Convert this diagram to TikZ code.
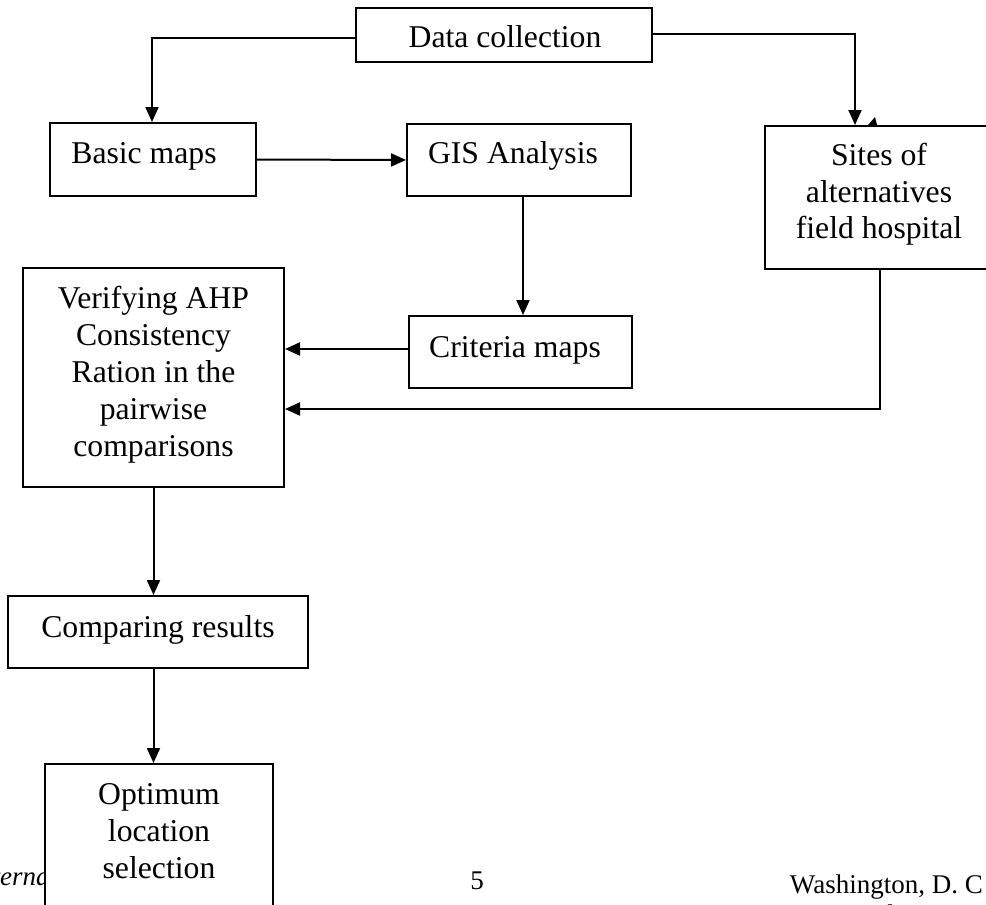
\documentclass[tikz,border=0pt]{standalone}
\usepackage{fontspec}
\setmainfont{Liberation Serif}
\usetikzlibrary{arrows.meta}
\begin{document}
\begin{tikzpicture}[x=1pt,y=-1pt,
  box/.style={draw, line width=2pt, fill=white, inner sep=0pt},
  lbl/.style={anchor=base, inner sep=0pt, font=\fontsize{31.7}{37}\selectfont},
  conn/.style={line width=2pt, -{Triangle[length=15pt,width=13pt]}},
  foot/.style={anchor=base, inner sep=0pt, font=\fontsize{27}{32}\selectfont}]
\useasboundingbox (0,0) rectangle (986,905);

% footer text of the underlying page (partly hidden)
\node[foot, anchor=base west, font=\fontsize{27}{32}\selectfont\itshape] (fl) at (0,885) {\llap{Int}ernational};
\node[foot] (fpage) at (477,889) {5};
\node[foot, anchor=base east] (fw) at (983,893) {Washington, D. C};
\node[foot, anchor=base west] (fd) at (753,923) {June 29 -- July 2, 2016};

% boxes
\node[box, minimum width=296pt, minimum height=54pt] (dc) at (504,35) {};
\node[box, minimum width=206pt, minimum height=73pt] (bm) at (153,159.5) {};
\node[box, minimum width=224pt, minimum height=72pt] (gis) at (519,160) {};
\node[box, minimum width=229pt, minimum height=143pt] (sites) at (879.5,197.5) {};
\node[box, minimum width=223pt, minimum height=72pt] (crit) at (520.5,352) {};
\node[box, minimum width=261pt, minimum height=219pt] (ver) at (153.5,377.5) {};
\node[box, minimum width=300pt, minimum height=72pt] (comp) at (158,632) {};
\node[box, minimum width=228pt, minimum height=166pt] (opt) at (159,847) {};

% labels
\node[lbl] (tdc) at (505,47) {Data collection};
\node[lbl] (tbm) at (144,163) {Basic maps};
\node[lbl] (tgis) at (513,163) {GIS Analysis};
\node[lbl] (ts1) at (879,165) {Sites of};
\node[lbl] (ts2) at (879,202) {alternatives};
\node[lbl] (ts3) at (879,238) {field hospital};
\node[lbl] (tcrit) at (515,357) {Criteria maps};
\node[lbl] (tv1) at (153.5,308) {Verifying AHP};
\node[lbl] (tv2) at (153.5,345) {Consistency};
\node[lbl] (tv3) at (153.5,382) {Ration in the};
\node[lbl] (tv4) at (153.5,419) {pairwise};
\node[lbl] (tv5) at (153.5,456) {comparisons};
\node[lbl] (tcomp) at (158,637) {Comparing results};
\node[lbl] (to1) at (159,804) {Optimum};
\node[lbl] (to2) at (159,841) {location};
\node[lbl] (to3) at (159,878) {selection};

% connectors
\draw[conn] ([yshift=-3pt]dc.west) -| ([xshift=-1pt]bm.north);
\draw[conn] ([yshift=1pt]dc.east) -| ([xshift=-24.5pt]sites.north);
\draw[conn] (bm.east) -- (gis.west);
\draw[conn] ([xshift=4pt]gis.south) -- ([xshift=2.5pt]crit.north);
\coordinate (c1) at ([yshift=3pt]crit.west);
\draw[conn] (c1) -- (c1 -| ver.east);
\coordinate (j) at (0,409);
\draw[conn] ([xshift=0.5pt]sites.south) |- (j -| ver.east);
\draw[conn] (ver.south) -- (ver.south |- comp.north);
\draw[conn] (comp.south -| ver.south) -- (ver.south |- opt.north);

% small stray arrowhead fragment at the top of the sites box
\fill (868,125) -- (877,125) -- (875,117) -- cycle;
\end{tikzpicture}
\end{document}
